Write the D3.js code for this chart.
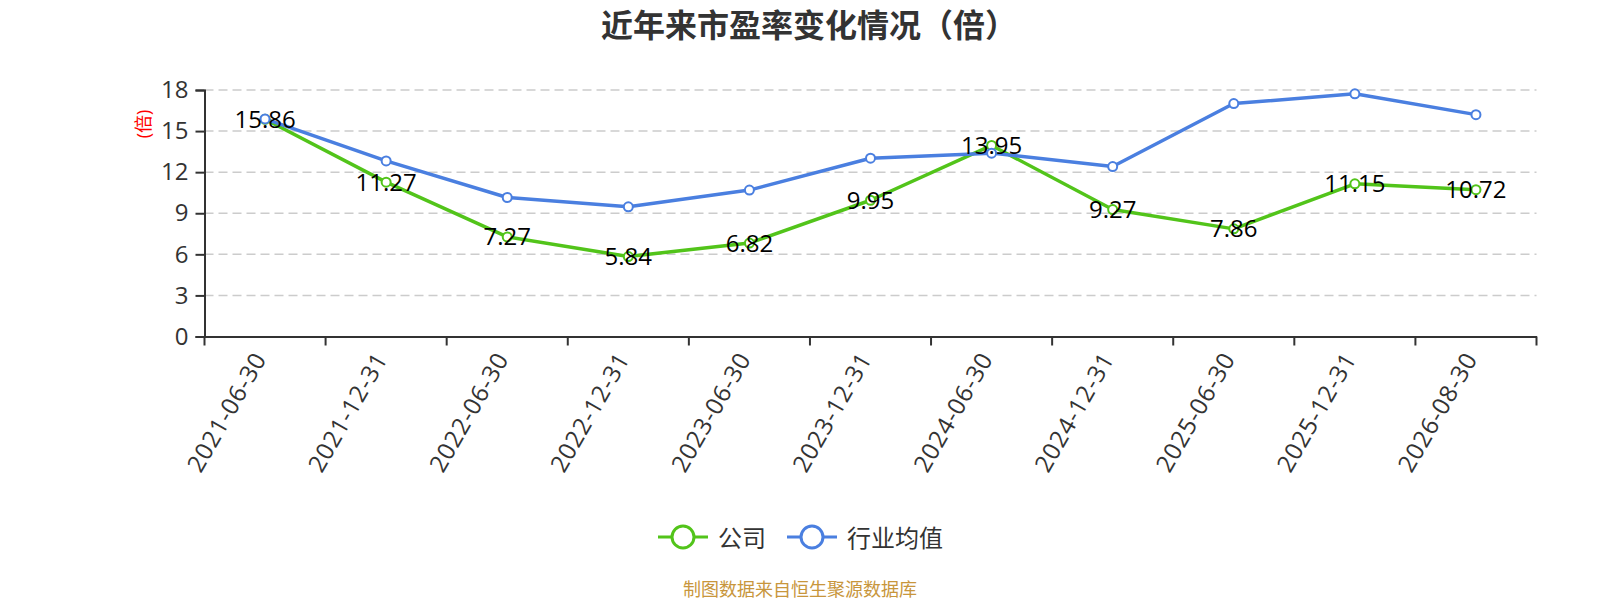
<!DOCTYPE html>
<html>
<head>
<meta charset="utf-8">
<script src="https://cdn.jsdelivr.net/npm/d3@7/dist/d3.min.js"></script>
<style>
  body { margin: 0; background: #fff; }
  text { font-family: "Open Sans", "Noto Sans CJK SC", sans-serif; }
</style>
</head>
<body>
<div id="chart"></div>
<script>
// data
const dates = ["2021-06-30", "2021-12-31", "2022-06-30", "2022-12-31", "2023-06-30",
  "2023-12-31", "2024-06-30", "2024-12-31", "2025-06-30", "2025-12-31", "2026-08-30"];
const company = [15.86, 11.27, 7.27, 5.84, 6.82, 9.95, 13.95, 9.27, 7.86, 11.15, 10.72];
const industry = [15.89, 12.82, 10.15, 9.47, 10.69, 13.02, 13.39, 12.41, 17.01, 17.72, 16.2];
const yTicks = [0, 3, 6, 9, 12, 15, 18];
const seriesNames = ["公司", "行业均值"];
const colors = ["#52c41a", "#4a7fe0"];

const W = 1600, H = 600;
const plotLeft = 204.5, plotRight = 1536.5, plotTop = 90, plotBottom = 336.5;

const svg = d3.select("#chart").append("svg")
  .attr("width", W)
  .attr("height", H);

const x = d3.scaleBand().domain(dates).range([plotLeft, plotRight]).padding(0);
const y = d3.scaleLinear().domain([0, 18]).range([plotBottom, plotTop]);
const cx = d => x(d) + x.bandwidth() / 2;

// title
svg.append("text")
  .attr("x", W / 2 + 9).attr("y", 24)
  .attr("text-anchor", "middle").attr("dominant-baseline", "central")
  .attr("font-size", 32).attr("font-weight", "bold").attr("fill", "#333")
  .text("近年来市盈率变化情况（倍）");

// grid lines
svg.append("g").selectAll("line")
  .data(yTicks.filter(t => t > 0))
  .enter().append("line")
  .attr("x1", plotLeft).attr("x2", plotRight)
  .attr("y1", d => y(d)).attr("y2", d => y(d))
  .attr("stroke", "#ccc").attr("stroke-width", 1.5)
  .attr("stroke-dasharray", "9,5");

// y axis
const yAxis = svg.append("g")
  .attr("transform", "translate(" + plotLeft + ",0)")
  .call(d3.axisLeft(y).tickValues(yTicks).tickSize(9).tickPadding(7));
yAxis.select(".domain").attr("stroke", "#333").attr("stroke-width", 2);
yAxis.selectAll(".tick line").attr("stroke", "#333").attr("stroke-width", 2);
yAxis.selectAll(".tick text").attr("font-size", 24).attr("fill", "#333")
  .attr("font-family", "'Open Sans', sans-serif");

// y axis name
svg.append("text")
  .attr("transform", "translate(143,124) rotate(-90)")
  .attr("text-anchor", "middle").attr("dominant-baseline", "central")
  .attr("font-size", 18).attr("fill", "red")
  .text("(倍)");

// x axis: labels at band centres, ticks at band boundaries
const xAxis = svg.append("g")
  .attr("transform", "translate(0," + plotBottom + ")")
  .call(d3.axisBottom(x).tickSize(0).tickPadding(0));
xAxis.select(".domain").attr("stroke", "#333").attr("stroke-width", 2);
xAxis.selectAll(".tick text")
  .attr("font-size", 24).attr("fill", "#333")
  .attr("font-family", "'Open Sans', sans-serif")
  .attr("letter-spacing", "0.8px")
  .attr("text-anchor", "end")
  .attr("dy", "0.35em")
  .attr("transform", "translate(-5,18) rotate(-60)");
xAxis.selectAll(".bound")
  .data(dates.map(d => x(d)).concat([plotRight]))
  .enter().append("line")
  .attr("class", "bound")
  .attr("x1", d => d).attr("x2", d => d)
  .attr("y1", 0).attr("y2", 9)
  .attr("stroke", "#333").attr("stroke-width", 2);

// lines and markers
const line = d3.line().x((d, i) => cx(dates[i])).y(d => y(d));
[company, industry].forEach((vals, k) => {
  svg.append("path")
    .datum(vals)
    .attr("fill", "none")
    .attr("stroke", colors[k])
    .attr("stroke-width", 3.5)
    .attr("stroke-linejoin", "round")
    .attr("d", line);
});
[company, industry].forEach((vals, k) => {
  svg.append("g").selectAll("circle")
    .data(vals)
    .enter().append("circle")
    .attr("cx", (d, i) => cx(dates[i]))
    .attr("cy", d => y(d))
    .attr("r", 4.5)
    .attr("fill", "#fff")
    .attr("stroke", colors[k])
    .attr("stroke-width", 2);
});

// value labels for the company series
svg.append("g").selectAll("text")
  .data(company)
  .enter().append("text")
  .attr("x", (d, i) => cx(dates[i]))
  .attr("y", d => y(d) - 1)
  .attr("text-anchor", "middle").attr("dominant-baseline", "central")
  .attr("font-size", 24).attr("fill", "#000")
  .text(d => d.toFixed(2));

// legend
const legend = svg.append("g");
const legendItems = [
  { name: seriesNames[0], color: colors[0], x0: 658, tx: 718 },
  { name: seriesNames[1], color: colors[1], x0: 787, tx: 847 }
];
legendItems.forEach(it => {
  legend.append("line")
    .attr("x1", it.x0).attr("x2", it.x0 + 50)
    .attr("y1", 537).attr("y2", 537)
    .attr("stroke", it.color).attr("stroke-width", 3);
  legend.append("circle")
    .attr("cx", it.x0 + 25).attr("cy", 537).attr("r", 11)
    .attr("fill", "#fff").attr("stroke", it.color).attr("stroke-width", 3);
  legend.append("text")
    .attr("x", it.tx).attr("y", 537)
    .attr("dominant-baseline", "central")
    .attr("font-size", 24).attr("fill", "#333")
    .text(it.name);
});

// source note
svg.append("text")
  .attr("x", 800).attr("y", 589)
  .attr("text-anchor", "middle").attr("dominant-baseline", "central")
  .attr("font-size", 18).attr("fill", "#c8963c")
  .text("制图数据来自恒生聚源数据库");
</script>
</body>
</html>
